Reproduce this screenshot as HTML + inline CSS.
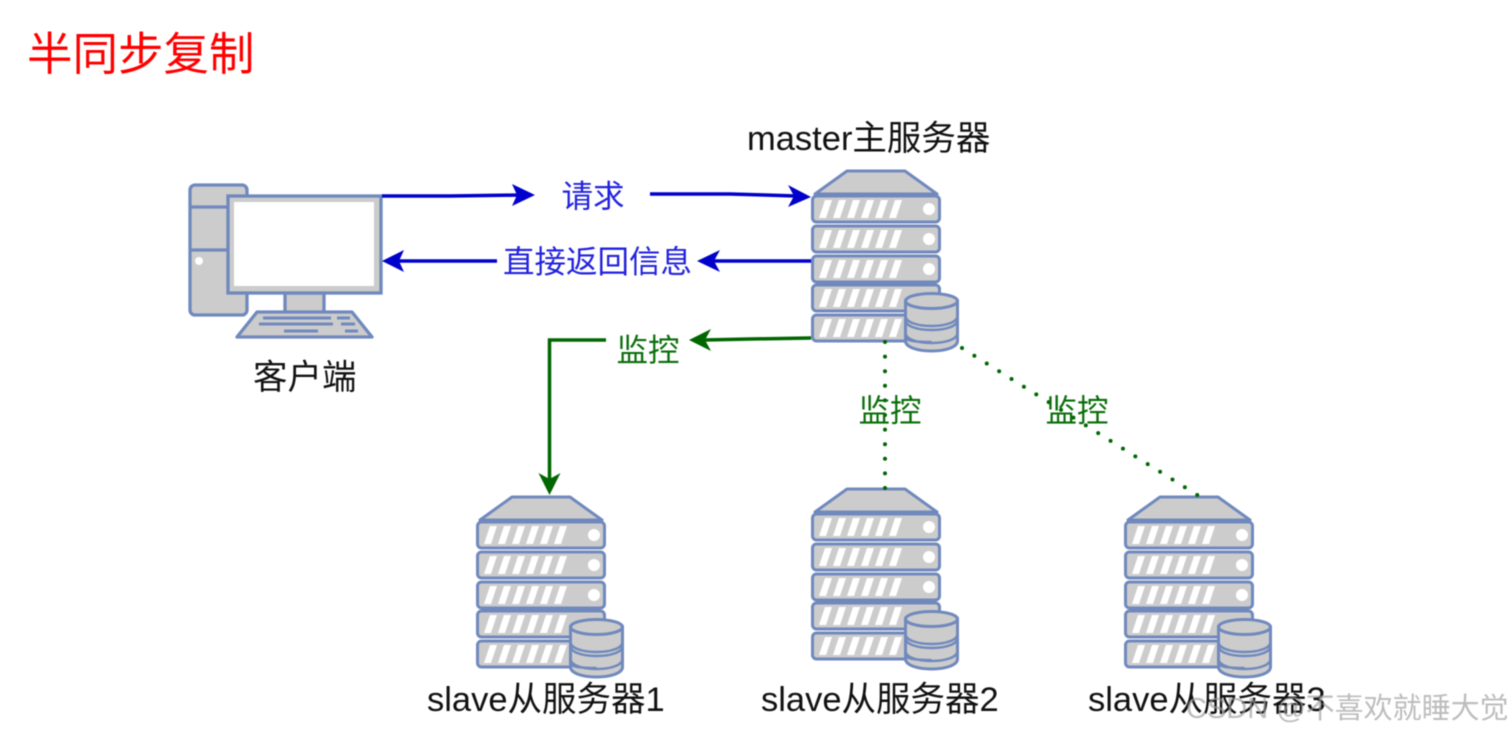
<!DOCTYPE html>
<html><head><meta charset="utf-8"><style>
html,body{margin:0;padding:0;background:#fff}
svg{display:block;filter:blur(.5px)}
text{font-family:"Liberation Sans","Noto Sans CJK SC",sans-serif}
</style></head><body>
<svg width="1509" height="733" viewBox="0 0 1509 733" xmlns="http://www.w3.org/2000/svg">
<defs>
<g id="row"><rect x="1.5" y="0" width="127" height="26" rx="4" fill="#ccc" stroke="#7089bd" stroke-width="3"/>
<path d="M14 4h7l-6 18h-7zM28 4h7l-6 18h-7zM42 4h7l-6 18h-7zM56 4h7l-6 18h-7zM70 4h7l-6 18h-7zM84 4h7l-6 18h-7z" fill="#fff"/>
<circle cx="118" cy="13" r="6" fill="#fff"/></g>
<g id="srv">
<path d="M4 24L36 1H94L126 24Z" fill="#ccc" stroke="#7089bd" stroke-width="3" stroke-linejoin="round"/>
<use href="#row" y="26"/><use href="#row" y="56"/><use href="#row" y="86"/><use href="#row" y="115"/><use href="#row" y="145"/>
<path d="M94.500 131V171C94.500 177 106 181 120.500 181S146.500 177 146.500 171V131Z" fill="#ccc" stroke="#7089bd" stroke-width="3"/>
<ellipse cx="120.500" cy="131" rx="26" ry="7.500" fill="#ccc" stroke="#7089bd" stroke-width="3"/>
<path d="M94.500 146C94.500 152 106 156 120.500 156S146.500 152 146.500 146M94.500 150C94.500 156 106 160 120.500 160S146.500 156 146.500 150M94.500 163C94.500 169 106 173 120.500 173S146.500 169 146.500 163M94.500 167C94.500 171 106 172 120.500 172" fill="none" stroke="#7089bd" stroke-width="2.500"/>
</g>
</defs>

<text x="27" y="70" font-size="45.500" fill="#ff0000">半同步复制</text>

<!-- client -->
<g fill="#ccc" stroke="#7089bd" stroke-width="3.300">
<rect x="190" y="185" width="57" height="130" rx="5"/>
<path d="M190 207H232M190 250H232" fill="none"/>
<rect x="285" y="293" width="39" height="20"/>
<path d="M257 312H352L372 337H237Z" stroke-linejoin="round"/>
<rect x="228" y="196" width="153" height="97"/>
</g>
<rect x="234" y="202" width="140" height="84" fill="#fff"/>
<circle cx="199" cy="261" r="4" fill="#fff"/>
<path d="M263 318h68M337 318h13M259 324h74M341 324h14M284 331h34M345 331h13" stroke="#7089bd" stroke-width="3"/>

<use href="#srv" x="811" y="170"/>
<use href="#srv" x="476" y="496"/>
<use href="#srv" x="811" y="488"/>
<use href="#srv" x="1124" y="496"/>

<!-- connectors -->
<g fill="none" stroke-width="3.500">
<path d="M382 196L450 196L520 195" stroke="#0000cc"/>
<path d="M650 194L730 194L796 196" stroke="#0000cc"/>
<path d="M497 261H396" stroke="#0000cc"/>
<path d="M811 261H712" stroke="#0000cc"/>
<path d="M811 338L750 339L704 340" stroke="#006600"/>
<path d="M606 340H549.500V482" stroke="#006600"/>
<path d="M885 342V489M962 348L1198 495.500" stroke="#006600" stroke-width="4" stroke-linecap="round" stroke-dasharray="0 14.600"/>
</g>
<g fill="#0000cc">
<path d="M535 195L512 184L517 195L512 206Z"/>
<path d="M811 197L788 185L794 196L788 207Z"/>
<path d="M382 261L404 250L399 261L404 272Z"/>
<path d="M697 261L720 250L714 261L720 272Z"/>
</g>
<g fill="#006600">
<path d="M689 340L711 329L705 340L711 351Z"/>
<path d="M549.500 495L538.500 473L549.500 479L560.500 473Z"/>
</g>

<!-- labels -->
<g font-size="31.500">
<text x="561.500" y="207" fill="#2222dd">请求</text>
<text x="503" y="272.500" fill="#2222dd">直接返回信息</text>
<g fill="#0a6e0a">
<text x="616.500" y="361">监控</text>
<text x="858.500" y="421.500">监控</text>
<text x="1045.500" y="421.500">监控</text>
</g>
</g>
<g font-size="34.500" fill="#111">
<text x="747" y="150">master主服务器</text>
<text x="253" y="389">客户端</text>
<text x="427" y="711">slave从服务器1</text>
<text x="761" y="711">slave从服务器2</text>
<text x="1088" y="711">slave从服务器3</text>
</g>
<text x="1186" y="718" font-size="29" fill="#999" fill-opacity=".65">CSDN @不喜欢就睡大觉</text>
</svg>
</body></html>
